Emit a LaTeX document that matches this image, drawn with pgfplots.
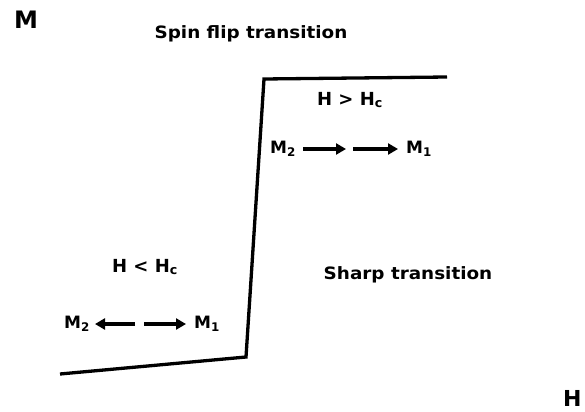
\documentclass[border=0pt]{standalone}
\usepackage{pgfplots}
\pgfplotsset{compat=1.18}
\usepackage{fontspec}
\setmainfont{DejaVu Sans}
\usetikzlibrary{arrows.meta}
\begin{document}
\begin{tikzpicture}
\useasboundingbox (0,0) rectangle (585bp,412bp);
\begin{axis}[
  at={(0,0)}, anchor=south west,
  scale only axis, width=585bp, height=412bp,
  xmin=0, xmax=585, ymin=0, ymax=412, y dir=reverse,
  axis lines=none, clip=false,
]
\addplot[black, line width=3.3bp, line join=miter] coordinates {(60,374) (246,357) (264,79) (447,77)};
\node[font=\fontsize{24bp}{28bp}\bfseries\selectfont] at (axis cs:26,20) {M};
\node[font=\fontsize{22bp}{26bp}\bfseries\selectfont, anchor=east] at (axis cs:585,398) {H};
\node[font=\fontsize{17bp}{20bp}\bfseries\selectfont] at (axis cs:251,34) {\scalebox{1.08}[1]{Spin flip transition}};
\node[font=\fontsize{17bp}{20bp}\bfseries\selectfont] at (axis cs:408,275) {\scalebox{1.08}[1]{Sharp transition}};
\node[font=\fontsize{18bp}{20bp}\bfseries\selectfont] at (axis cs:350,100) {H > H\textsubscript{c}};
\node[font=\fontsize{18bp}{20bp}\bfseries\selectfont] at (axis cs:145,267) {H < H\textsubscript{c}};
\node[font=\fontsize{17bp}{20bp}\bfseries\selectfont] at (axis cs:77,324) {M\textsubscript{2}};
\node[font=\fontsize{17bp}{20bp}\bfseries\selectfont] at (axis cs:207,324) {M\textsubscript{1}};
\node[font=\fontsize{17bp}{20bp}\bfseries\selectfont] at (axis cs:283,149) {M\textsubscript{2}};
\node[font=\fontsize{17bp}{20bp}\bfseries\selectfont] at (axis cs:419,149) {M\textsubscript{1}};
\draw[line width=3.5bp, -{Triangle[length=10bp,width=11bp]}] (axis cs:135,324) -- (axis cs:95,324);
\draw[line width=3.5bp, -{Triangle[length=10bp,width=11bp]}] (axis cs:144,324) -- (axis cs:186,324);
\draw[line width=3.5bp, -{Triangle[length=10bp,width=11bp]}] (axis cs:303,149) -- (axis cs:346,149);
\draw[line width=3.5bp, -{Triangle[length=10bp,width=11bp]}] (axis cs:353,149) -- (axis cs:398,149);
\end{axis}
\end{tikzpicture}
\end{document}
